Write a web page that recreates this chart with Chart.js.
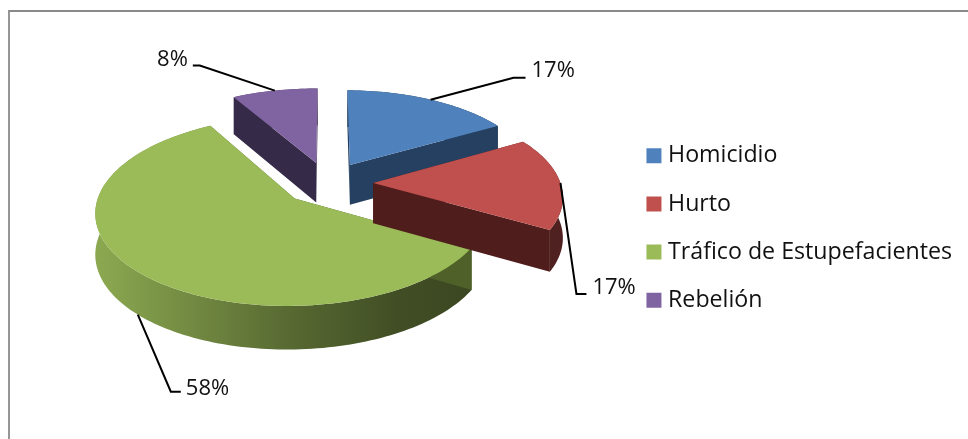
<!DOCTYPE html>
<html><head><meta charset="utf-8">
<style>
html,body{margin:0;padding:0;background:#fff;overflow:hidden}
#wrap{position:relative;width:968px;height:439px}
#frame{position:absolute;left:8px;top:10px;right:0;bottom:0;border-top:2px solid #8a8a8a;border-left:2px solid #969696}
canvas{position:absolute;left:0;top:0}
</style>
<script src="https://cdn.jsdelivr.net/npm/chart.js@4"></script>
</head><body>
<div id="wrap"><div id="frame"></div><canvas id="c" width="968" height="439"></canvas></div>
<script>
const categories = ['Homicidio','Hurto','Tráfico de Estupefacientes','Rebelión'];
const values = [2,2,7,1];
const topColors = ['#4F81BD','#C0504D','#9BBB59','#8064A2'];
const wallColors = ['#254061','#4F1D1B','#4F6128','#352A47'];
const drawOrder = [3,0,2,1];
// leader line elbows, relative to the anchor on the slice rim, then the text position
const leaderElbows = [[83,-22],[16,111],[33,77],[-75,-25]];
const leaderEnds = [12,10,10,-7];
const labelGaps = [[6,-7],[6,-6],[5,-3],[-5,-6]];

const view = {shiftY:-45, squash:0.468, persp:0.13, skew:0.01, explode:0.24, depth:0.212, depthV:0.015};
const FONT = '"Open Sans", sans-serif';

function projector(a){
  const R=a.outerRadius, cy=a.y+view.shiftY;
  const mid=(a.startAngle+a.endAngle)/2;
  const ox=view.explode*Math.cos(mid), oy=view.explode*Math.sin(mid);
  return (ang,rad,down)=>{
    const u=ox+rad*Math.cos(ang), v=oy+rad*Math.sin(ang), w=1-view.persp*v+view.skew*u;
    return {x:a.x+R*u/w, y:cy+view.squash*R*v/w+(down?(view.depth+view.depthV*v)*R:0)};
  };
}
function shade(hex,f){
  const n=parseInt(hex.slice(1),16);
  return `rgb(${((n>>16)&255)*f|0},${((n>>8)&255)*f|0},${(n&255)*f|0})`;
}
const pie3d={
  id:'pie3d',
  beforeDatasetDraw(chart,args){
    const ctx=chart.ctx, arcs=chart.getDatasetMeta(args.index).data;
    ctx.save();
    for(const i of drawOrder){
      const a=arcs[i].getProps(['x','y','startAngle','endAngle','outerRadius'],true);
      const P=projector(a), N=Math.max(8,Math.round((a.endAngle-a.startAngle)*40));
      const poly=(pts,fill)=>{ctx.beginPath();pts.forEach((p,k)=>k?ctx.lineTo(p.x,p.y):ctx.moveTo(p.x,p.y));ctx.closePath();ctx.fillStyle=fill;ctx.fill();};
      const rimUp=[],rimDown=[];
      for(let k=0;k<=N;k++){const t=a.startAngle+(a.endAngle-a.startAngle)*k/N;rimUp.push(P(t,1,false));rimDown.unshift(P(t,1,true));}
      // outer rim wall
      const g=ctx.createLinearGradient(a.x-a.outerRadius*1.2,0,a.x+a.outerRadius*1.25,0);
      [[0,.9],[.22,.72],[.43,.55],[.64,.42],[.8,.38],[1,.42]].forEach(s=>g.addColorStop(s[0],shade(topColors[i],s[1])));
      poly(rimUp.concat(rimDown),g);
      // radial walls
      for(const ang of [a.startAngle,a.endAngle]){
        poly([P(ang,0,false),P(ang,1,false),P(ang,1,true),P(ang,0,true)],wallColors[i]);
      }
      // top face
      poly([P(a.startAngle,0,false)].concat(rimUp),topColors[i]);
    }
    // leader lines and percentage labels
    const total=values.reduce((s,v)=>s+v,0);
    ctx.strokeStyle='#000';ctx.lineWidth=2;ctx.fillStyle='#111';ctx.font='22px '+FONT;ctx.textBaseline='middle';
    arcs.forEach((el,i)=>{
      const a=el.getProps(['x','y','startAngle','endAngle','outerRadius'],true);
      const mid=(a.startAngle+a.endAngle)/2, rad=projector(a);
      const below=Math.sin(mid)>0.5;
      const p=rad(mid,1,below);
      const ex=p.x+leaderElbows[i][0], ey=p.y+leaderElbows[i][1], fx=ex+leaderEnds[i];
      ctx.beginPath();ctx.moveTo(p.x,p.y);ctx.lineTo(ex,ey);ctx.lineTo(fx,ey);ctx.stroke();
      ctx.textAlign=leaderEnds[i]<0?'right':'left';
      ctx.fillText(Math.round(values[i]/total*100)+'%',fx+labelGaps[i][0],ey+labelGaps[i][1]);
    });
    ctx.restore();
    return false;
  }
};
new Chart(document.getElementById('c'),{
  type:'pie',
  data:{labels:categories,datasets:[{data:values,backgroundColor:topColors,borderWidth:0,hoverOffset:0}]},
  plugins:[pie3d],
  options:{
    responsive:false,animation:false,devicePixelRatio:1,
    radius:190,
    layout:{padding:{left:29,right:6,top:17,bottom:0}},
    plugins:{
      tooltip:{enabled:false},
      legend:{position:'right',align:'center',labels:{
        usePointStyle:true,pointStyle:'rect',boxWidth:5,boxHeight:15,padding:25,
        color:'#111',font:{family:FONT,size:23.2}
      }}
    }
  }
});
</script>
</body></html>
